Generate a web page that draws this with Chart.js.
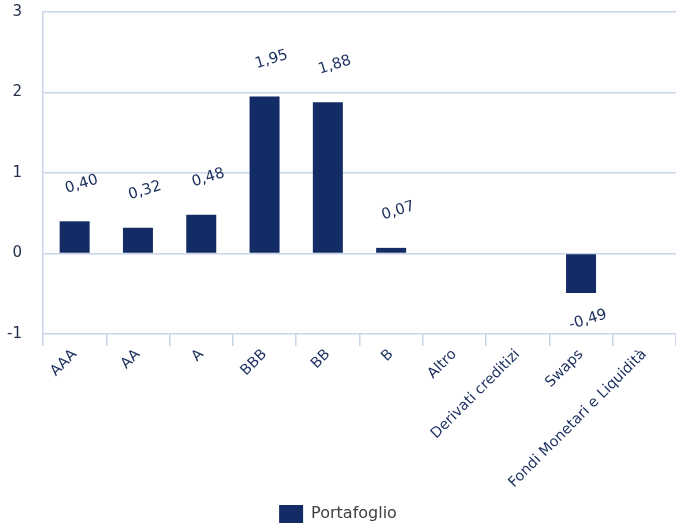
<!DOCTYPE html>
<html>
<head>
<meta charset="utf-8">
<script src="https://cdn.jsdelivr.net/npm/chart.js@4/dist/chart.umd.min.js"></script>
<style>
html,body{margin:0;padding:0;background:#fff;}
#wrap{width:676px;height:528px;position:relative;}
</style>
</head>
<body>
<div id="wrap"><canvas id="c" width="676" height="528"></canvas></div>
<script>
const categories = ["AAA","AA","A","BBB","BB","B","Altro","Derivati creditizi","Swaps","Fondi Monetari e Liquidità"];
const portafoglio = [0.40,0.32,0.48,1.95,1.88,0.07,null,null,-0.49,null];
const yTicks = [-1,0,1,2,3];
const seriesName = "Portafoglio";

const navy = "#132c66";
const gridColor = "#c9d6e8";
const fontFam = "'DejaVu Sans', Verdana, sans-serif";

const labelPlugin = {
  id: "valueLabels",
  afterDatasetsDraw(chart) {
    const ctx = chart.ctx;
    const meta = chart.getDatasetMeta(0);
    const data = chart.data.datasets[0].data;
    ctx.save();
    ctx.font = "15px " + fontFam;
    ctx.fillStyle = "#1b2f5e";
    ctx.textAlign = "center";
    ctx.textBaseline = "middle";
    meta.data.forEach((bar, i) => {
      const v = data[i];
      if (v === null || v === undefined) return;
      const x = bar.x + 7;
      const y = v >= 0 ? bar.y - 37 : bar.y + 27;
      ctx.save();
      ctx.translate(x, y);
      ctx.rotate(-17 * Math.PI / 180);
      ctx.fillText(v.toFixed(2).replace(".", ","), 0, 0);
      ctx.restore();
    });
    ctx.restore();
  }
};

new Chart(document.getElementById("c"), {
  type: "bar",
  data: {
    labels: categories,
    datasets: [{
      label: seriesName,
      data: portafoglio,
      backgroundColor: navy,
      borderWidth: 0,
      barPercentage: 0.474,
      categoryPercentage: 1.0
    }]
  },
  options: {
    responsive: false,
    animation: false,
    devicePixelRatio: 1,
    layout: { padding: { top: 12, right: 0, left: 0, bottom: -5 } },
    plugins: {
      legend: {
        position: "bottom",
        labels: {
          boxWidth: 24,
          boxHeight: 18,
          color: "#404040",
          font: { size: 16, family: fontFam },
          padding: 4
        }
      },
      tooltip: { enabled: false }
    },
    scales: {
      x: {
        afterFit(axis) {
          axis.paddingLeft = 0;
          axis.paddingRight = 0;
          axis.height = 167;
        },
        grid: {
          display: true,
          drawOnChartArea: false,
          drawTicks: true,
          tickLength: 12,
          color: gridColor,
          lineWidth: 1.5
        },
        border: { display: false },
        ticks: {
          color: "#1b2f5e",
          font: { size: 14.5, family: fontFam },
          maxRotation: 45,
          minRotation: 45,
          autoSkip: false,
          padding: 0
        }
      },
      y: {
        min: -1,
        max: 3,
        afterBuildTicks(axis) { axis.ticks = yTicks.map(v => ({ value: v })); },
        afterFit(axis) {
          axis.width = 43;
          axis.paddingTop = 0;
          axis.paddingBottom = 0;
        },
        grid: {
          color: gridColor,
          lineWidth: 1.5,
          drawTicks: false
        },
        border: { display: true, color: gridColor, width: 1.5 },
        ticks: {
          color: "#1f2d4a",
          font: { size: 15, family: fontFam },
          padding: 21,
          callback: v => String(v)
        }
      }
    }
  },
  plugins: [labelPlugin]
});
</script>
</body>
</html>
